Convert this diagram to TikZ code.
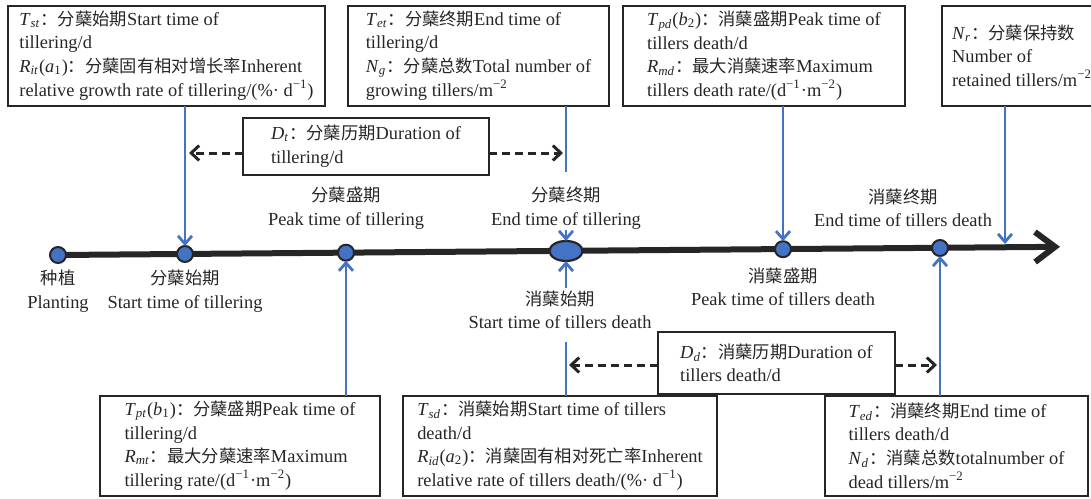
\documentclass[tikz,border=0pt]{standalone}
\usepackage{fontspec}
\setmainfont{Liberation Serif}
\newfontfamily\cjk[Scale=0.94]{Noto Sans CJK SC}
\usetikzlibrary{arrows.meta,shapes.geometric}
\definecolor{tlblue}{HTML}{4472C4}
\definecolor{boxgray}{HTML}{262626}
\newcommand{\zh}[1]{{\cjk #1}}
\newcommand{\sym}[2]{\textit{#1}\textsubscript{\textit{#2}}}
\begin{document}
\begin{tikzpicture}[x=0.5pt,y=-0.5pt,inner sep=0pt,outer sep=0pt,
font=\fontsize{9.2}{11.8}\selectfont,text=boxgray,
dot/.style={draw=boxgray,fill=tlblue,circle,line width=1pt,minimum size=8pt},
bigdot/.style={draw=boxgray,fill=tlblue,ellipse,line width=1.1pt,minimum width=16.5pt,minimum height=10pt},
stage/.style={align=center},
infobox/.style={draw=boxgray,line width=1pt,rectangle,align=left,minimum height=50pt},
timeline/.style={draw=boxgray,line width=3pt,-{Straight Barb[length=10pt,width=15pt]}},
blueline/.style={draw=tlblue,line width=1.4pt},
bluearrow/.style={blueline,-{Straight Barb[length=4pt,width=7pt]}},
dasharrow/.style={draw=boxgray,line width=1.5pt,dash pattern=on 4pt off 2.5pt,-{Straight Barb[length=4pt,width=7.5pt]}}]
\useasboundingbox (0,0) rectangle (1091,498);
\coordinate (axstart) at (58,255);
\coordinate (axend) at (1060,246.8);
\draw[timeline] (axstart) -- (axend);

\draw (58,255) node[dot] (pl) {};
\draw (185,254) node[dot] (st) {};
\draw (346,252.7) node[dot] (pt) {};
\draw (566,251) node[bigdot] (et) {};
\draw (783,249.2) node[dot] (pd) {};
\draw (940,248) node[dot] (ed) {};

\draw (58,291) node[stage] (plL) {\zh{种植}\\Planting};
\draw (185,291) node[stage] (stL) {\zh{分蘖始期}\\Start time of tillering};
\draw (346,208) node[stage] (ptL) {\zh{分蘖盛期}\\Peak time of tillering};
\draw (566,208) node[stage] (etL) {\zh{分蘖终期}\\End time of tillering};
\draw (560,310) node[stage] (sdL) {\zh{消蘖始期}\\Start time of tillers death};
\draw (783,287) node[stage] (pdL) {\zh{消蘖盛期}\\Peak time of tillers death};
\draw (903,208) node[stage] (edL) {\zh{消蘖终期}\\End time of tillers death};

\draw (166.5,55.5) node[infobox,minimum width=158.5pt] (tst) {\sym{T}{st}\zh{：分蘖始期}Start time of\\tillering/d\\\sym{R}{it}(\textit{a}\textsubscript{1})\zh{：分蘖固有相对增长率}Inherent\\relative growth rate of tillering/(\%· d\textsuperscript{−1})};
\draw (478.5,55.5) node[infobox,minimum width=130.5pt] (tet) {\sym{T}{et}\zh{：分蘖终期}End time of\\tillering/d\\\sym{N}{g}\zh{：分蘖总数}Total number of\\growing tillers/m\textsuperscript{−2}};
\draw (764,55.5) node[infobox,minimum width=141pt] (tpd) {\sym{T}{pd}(\textit{b}\textsubscript{2})\zh{：消蘖盛期}Peak time of\\tillers death/d\\\sym{R}{md}\zh{：最大消蘖速率}Maximum\\tillers death rate/(d\textsuperscript{−1}·m\textsuperscript{−2})};
\draw (1022,55.5) node[infobox,minimum width=80pt] (nr) {\sym{N}{r}\zh{：分蘖保持数}\\Number of\\retained tillers/m\textsuperscript{−2}};
\draw (366,146.5) node[infobox,minimum width=123pt,minimum height=28.5pt] (dt) {\sym{D}{t}\zh{：分蘖历期}Duration of\\tillering/d};

\draw (240,445.5) node[infobox,minimum width=140pt] (tpt) {\sym{T}{pt}(\textit{b}\textsubscript{1})\zh{：分蘖盛期}Peak time of\\tillering/d\\\sym{R}{mt}\zh{：最大分蘖速率}Maximum\\tillering rate/(d\textsuperscript{−1}·m\textsuperscript{−2})};
\draw (560,445.5) node[infobox,minimum width=157pt] (tsd) {\sym{T}{sd}\zh{：消蘖始期}Start time of tillers\\death/d\\\sym{R}{id}(\textit{a}\textsubscript{2})\zh{：消蘖固有相对死亡率}Inherent\\relative rate of tillers death/(\%· d\textsuperscript{−1})};
\draw (776.5,363) node[infobox,minimum width=118.5pt,minimum height=31pt] (dd) {\sym{D}{d}\zh{：消蘖历期}Duration of\\tillers death/d};
\draw (956.5,445.5) node[infobox,minimum width=131.5pt] (ted) {\sym{T}{ed}\zh{：消蘖终期}End time of\\tillers death/d\\\sym{N}{d}\zh{：消蘖总数}totalnumber of\\dead tillers/m\textsuperscript{−2}};

\coordinate (etA) at (566,172);
\coordinate (etB) at (566,230);
\coordinate (etC) at (566,288);
\coordinate (etD) at (566,342);
\coordinate (nrin) at (1005,244);
\coordinate (dtL) at (189,153);
\coordinate (dtR) at (563,153);
\coordinate (ddL) at (569,365);
\coordinate (ddR) at (937,365);

\draw[bluearrow] (tst.south -| st) -- (st.north);
\draw[blueline] (tet.south -| etA) -- (etA);
\draw[bluearrow] (etB) -- (et.north);
\draw[bluearrow] (etC) -- (et.south);
\draw[blueline] (tsd.north -| etD) -- (etD);
\draw[bluearrow] (tpd.south -| pd) -- (pd.north);
\draw[bluearrow] (nr.south -| nrin) -- (nrin);
\draw[bluearrow] (tpt.north -| pt) -- (pt.south);
\draw[bluearrow] (ted.north -| ed) -- (ed.south);
\draw[dasharrow] (dt.west |- dtL) -- (dtL);
\draw[dasharrow] (dt.east |- dtR) -- (dtR);
\draw[dasharrow] (dd.west |- ddL) -- (ddL);
\draw[dasharrow] (dd.east |- ddR) -- (ddR);
\end{tikzpicture}
\end{document}
